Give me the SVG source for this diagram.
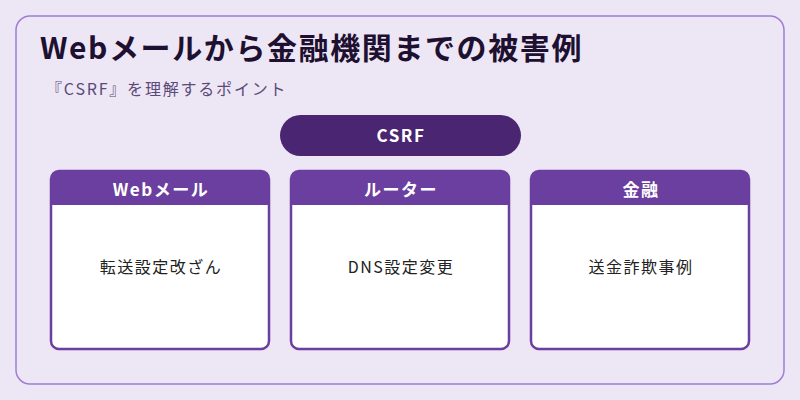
<svg xmlns="http://www.w3.org/2000/svg" width="800" height="400" viewBox="0 0 800 400">
<style>
text{font-family:"Noto Sans CJK JP","Noto Sans",sans-serif}
.hd{fill:#6b3fa0}
.body{fill:#fff;stroke:#6b3fa0;stroke-width:2.5}
.ht{fill:#fff;font-size:17px;font-weight:bold;text-anchor:middle;letter-spacing:1.5px}
.bt{fill:#222;font-size:16px;text-anchor:middle;letter-spacing:1.5px}
</style>
<rect width="800" height="400" fill="#ede6f5"/>
<rect x="16" y="16" width="768" height="368" rx="14" fill="#ede6f5" stroke="#a07fd0" stroke-width="1.5"/>
<text x="40" y="59" font-size="30" font-weight="bold" fill="#1e1030" letter-spacing="1.6">Webメールから金融機関までの被害例</text>
<text x="46" y="95" font-size="16" fill="#5a4a78" letter-spacing="1.8">『CSRF』を理解するポイント</text>
<g id="csrf"><rect x="280" y="115" width="241" height="41" rx="20.5" fill="#4a2672"/><text x="401" y="142" class="ht" font-size="17">CSRF</text></g>
<g id="webmail"><rect x="51" y="171" width="218" height="178" rx="8" class="body"/><path d="M51 205V179a8 8 0 0 1 8-8h202a8 8 0 0 1 8 8v26z" class="hd"/><text x="161" y="196" class="ht">Webメール</text><text x="161" y="273" class="bt">転送設定改ざん</text></g>
<g id="router"><rect x="291" y="171" width="218" height="178" rx="8" class="body"/><path d="M291 205V179a8 8 0 0 1 8-8h202a8 8 0 0 1 8 8v26z" class="hd"/><text x="401" y="196" class="ht">ルーター</text><text x="401" y="273" class="bt">DNS設定変更</text></g>
<g id="bank"><rect x="531" y="171" width="218" height="178" rx="8" class="body"/><path d="M531 205V179a8 8 0 0 1 8-8h202a8 8 0 0 1 8 8v26z" class="hd"/><text x="641" y="196" class="ht">金融</text><text x="641" y="273" class="bt">送金詐欺事例</text></g>
<g id="connectors"/>
</svg>
